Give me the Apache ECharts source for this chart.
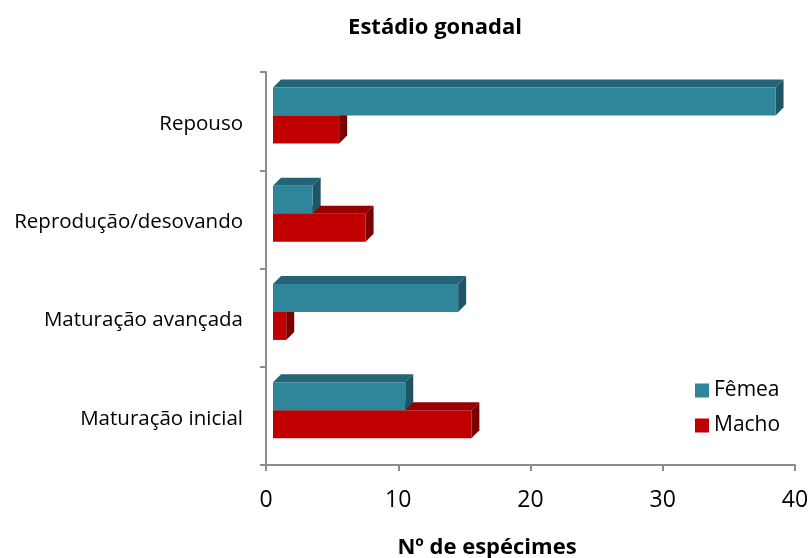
<!DOCTYPE html>
<html>
<head>
<meta charset="utf-8">
<script src="https://cdn.jsdelivr.net/npm/echarts@6/dist/echarts.min.js"></script>
<style>
html, body { margin: 0; padding: 0; background: #ffffff; }
#chart { width: 812px; height: 558px; }
</style>
</head>
<body>
<div id="chart"></div>
<script>
// categories bottom -> top
var categories = ["Maturação inicial", "Maturação avançada", "Reprodução/desovando", "Repouso"]
var femea = [10, 14, 3, 38]
var macho = [15, 1, 7, 5]
var xTicks = [0, 40, 10]

var fontName = "Open Sans"

// 3D bar: front face + top + right side
function bar3d(isFemale, colors) {
	return function(params, api) {
		var v = api.value(0)
		var c = api.value(1)
		var p0 = api.coord([0, c])
		var p1 = api.coord([v, c])
		var band = api.size([0, 1])[1]
		var h = band * 0.285
		var d = 8
		var shift = 7
		var x0 = p0[0] + shift
		var x1 = p1[0] + shift
		var yTop = isFemale ? p0[1] - 5.7 - h : p0[1] - 5.7
		return {
			type: "group",
			children: [
				{
					type: "polygon",
					shape: { points: [[x0, yTop], [x0 + d, yTop - d], [x1 + d, yTop - d], [x1, yTop]] },
					style: { fill: colors[1] },
				},
				{
					type: "polygon",
					shape: { points: [[x1, yTop], [x1 + d, yTop - d], [x1 + d, yTop + h - d], [x1, yTop + h]] },
					style: { fill: colors[2] },
				},
				{
					type: "rect",
					shape: { x: x0, y: yTop, width: x1 - x0, height: h },
					style: { fill: colors[0] },
				},
			],
		}
	}
}

var myChart = echarts.init(document.getElementById("chart"))
var option = {
	animation: false,
	title: [
		{
			text: "Estádio gonadal",
			left: 430,
			top: 12,
			textAlign: "center",
			textStyle: { fontFamily: fontName, fontSize: 22, fontWeight: "bold", color: "#000" },
		},
		{
			text: "Nº de espécimes",
			left: 482,
			top: 532,
			textAlign: "center",
			textStyle: { fontFamily: fontName, fontSize: 22, fontWeight: "bold", color: "#000" },
		},
	],
	legend: {
		data: ["Fêmea", "Macho"],
		orient: "vertical",
		left: 690,
		top: 375,
		itemWidth: 14,
		itemHeight: 14,
		itemGap: 14,
		icon: "rect",
		textStyle: { fontFamily: fontName, fontSize: 21, color: "#000" },
	},
	grid: { left: 266, right: 17, top: 72, bottom: 93 },
	xAxis: {
		type: "value",
		min: xTicks[0],
		max: xTicks[1],
		interval: xTicks[2],
		splitLine: { show: false },
		axisLine: { show: true, lineStyle: { color: "#8c8c8c", width: 2 } },
		axisTick: { show: true, length: 6, lineStyle: { color: "#8c8c8c", width: 2 } },
		axisLabel: { margin: 24, fontFamily: fontName, fontSize: 23, color: "#000" },
	},
	yAxis: {
		type: "category",
		data: categories,
		axisLine: { show: true, lineStyle: { color: "#8c8c8c", width: 2 } },
		axisTick: { show: true, length: 6, lineStyle: { color: "#8c8c8c", width: 2 } },
		axisLabel: {
			margin: 23,
			verticalAlign: "top",
			lineHeight: 6,
			fontFamily: fontName,
			fontSize: 20.5,
			color: "#000",
		},
	},
	series: [
		{
			name: "Macho",
			type: "custom",
			z: 2,
			itemStyle: { color: "#C00000" },
			encode: { x: 0, y: 1 },
			renderItem: bar3d(false, ["#C00000", "#960000", "#7A0000"]),
			data: macho.map(function(v, i) { return [v, i] }),
		},
		{
			name: "Fêmea",
			type: "custom",
			z: 3,
			itemStyle: { color: "#2F8599" },
			encode: { x: 0, y: 1 },
			renderItem: bar3d(true, ["#2F8599", "#236577", "#1E5564"]),
			data: femea.map(function(v, i) { return [v, i] }),
		},
	],
}
myChart.setOption(option)
</script>
</body>
</html>
